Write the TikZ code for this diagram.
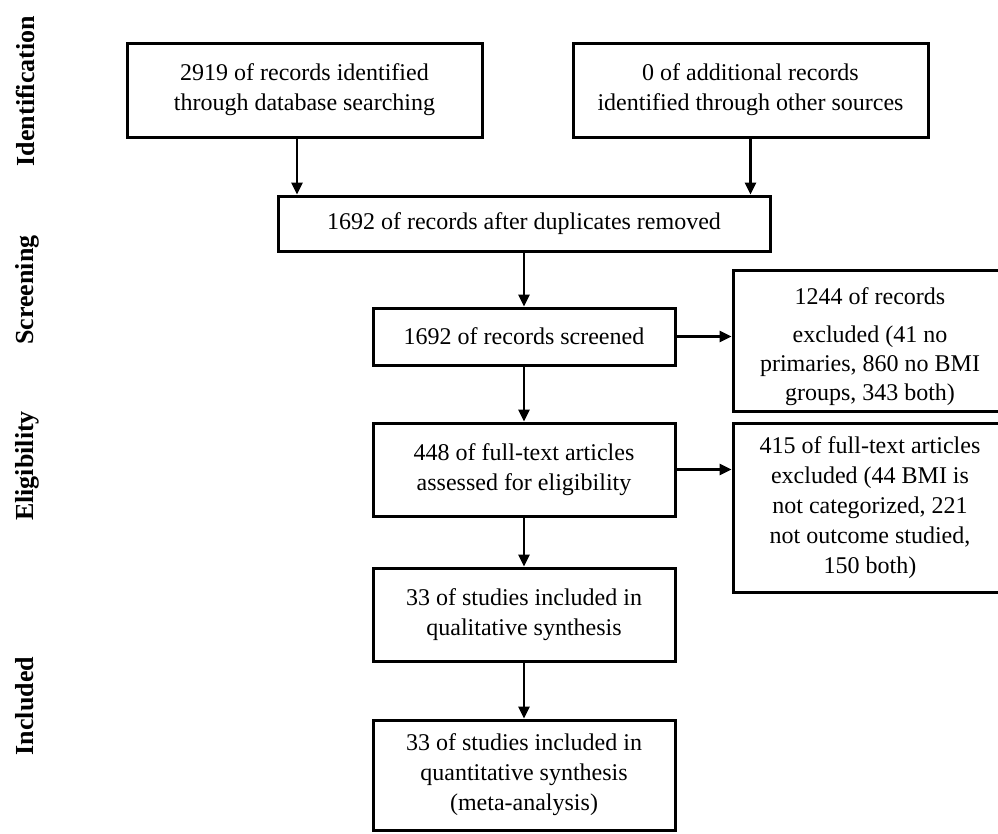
\documentclass[tikz,border=0pt]{standalone}
\usepackage{fontspec}
\setmainfont{Liberation Serif}
\usetikzlibrary{arrows.meta}
\tikzset{
  box/.style={draw,line width=3pt,align=center,inner sep=0pt,font=\fontsize{24}{30}\selectfont},
  arr/.style={line width=2.6pt,-{Triangle[length=12pt,width=11pt]}},
  stage/.style={rotate=90,font=\fontsize{26}{30}\selectfont\bfseries}
}
\begin{document}
\begin{tikzpicture}[x=1pt,y=-1pt]
\useasboundingbox (0,0) rectangle (998,833);
% stages
\node[stage] (ident) at (25,91) {Identification};
\node[stage] (screen) at (27,290) {Screening};
\node[stage] (elig) at (27,466) {Eligibility};
\node[stage] (incl) at (25,706) {Included};
% boxes
\node[box,minimum width=355pt,minimum height=94pt] (db) at (304.5,90) {2919 of records identified\\through database searching};
\node[box,minimum width=355pt,minimum height=94pt] (other) at (750.5,90) {0 of additional records\\identified through other sources};
\node[box,minimum width=492pt,minimum height=55pt] (dup) at (524,223.5) {1692 of records after duplicates removed};
\node[box,minimum width=302pt,minimum height=57pt] (scr) at (524,336.5) {1692 of records screened};
\node[box,minimum width=274pt,minimum height=141pt,font=\fontsize{24}{29}\selectfont] (excl) at (870,340.5) {\rule{0pt}{30pt}1244 of records\\[9pt]excluded (41 no\\primaries, 860 no BMI\\groups, 343 both)};
\node[box,minimum width=302pt,minimum height=93pt] (full) at (524,469.5) {448 of full-text articles\\assessed for eligibility};
\node[box,minimum width=274pt,minimum height=169pt] (fexcl) at (870,507.5) {415 of full-text articles\\excluded (44 BMI is\\not categorized, 221\\not outcome studied,\\150 both)};
\node[box,minimum width=302pt,minimum height=93pt] (qual) at (524,614.5) {33 of studies included in\\qualitative synthesis};
\node[box,minimum width=302pt,minimum height=110pt] (quant) at (524,775) {33 of studies included in\\quantitative synthesis\\(meta-analysis)};
% arrows
\draw[arr] ([xshift=-7.5pt]db.south) -- ([xshift=-7.5pt]db.south |- dup.north);
\draw[arr] (other.south) -- (other.south |- dup.north);
\draw[arr] (dup) -- (scr);
\draw[arr] (scr.east) -- (scr.east -| excl.west);
\draw[arr] (scr) -- (full);
\draw[arr] (full.east) -- (full.east -| fexcl.west);
\draw[arr] (full) -- (qual);
\draw[arr] (qual) -- (quant);
\end{tikzpicture}
\end{document}
